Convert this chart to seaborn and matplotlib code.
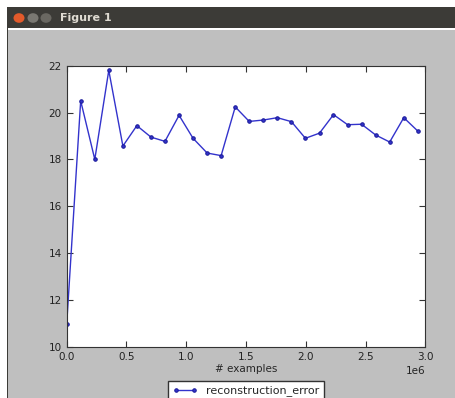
import seaborn as sns
import matplotlib.pyplot as plt
import pandas as pd
from matplotlib.patches import Rectangle, Circle

sns.set_style("ticks")

# examples seen (x) and reconstruction error (y)
examples = [0, 117000, 235000, 352000, 470000, 587000, 705000, 822000, 940000,
            1057000, 1175000, 1292000, 1410000, 1527000, 1645000, 1762000,
            1880000, 1997000, 2115000, 2232000, 2350000, 2467000, 2585000,
            2702000, 2820000, 2937000]
recon_error = [10.96, 20.5, 18.0, 21.8, 18.57, 19.44, 18.95, 18.77, 19.88,
               18.9, 18.27, 18.16, 20.24, 19.62, 19.68, 19.78, 19.61, 18.9,
               19.12, 19.91, 19.48, 19.5, 19.04, 18.74, 19.78, 19.21]

df = pd.DataFrame({"examples": examples, "reconstruction_error": recon_error})

plt.rcParams.update({
    "xtick.direction": "in", "ytick.direction": "in",
    "xtick.top": True, "ytick.right": True,
    "xtick.major.size": 4, "ytick.major.size": 4,
    "font.size": 7.5,
})

fig = plt.figure(figsize=(4.56, 3.98), dpi=100, facecolor="white")

# window chrome (title bar + grey canvas) like the screenshot
fig.patches.append(Rectangle((8 / 456, 0), 1, 1 - 30 / 398, transform=fig.transFigure,
                             facecolor="#bfbfbf", edgecolor="none", zorder=-2))
fig.patches.append(Rectangle((7 / 456, 0), 1.5 / 456, 1 - 28 / 398, transform=fig.transFigure,
                             facecolor="#3c3b37", edgecolor="none", zorder=-2))
fig.patches.append(Rectangle((7 / 456, 1 - 28 / 398), 1, 21 / 398, transform=fig.transFigure,
                             facecolor="#3c3b37", edgecolor="none", zorder=-2))
for cx, col in [(19, "#e35a2b"), (33, "#7a7872"), (46, "#6a6862")]:
    fig.patches.append(Circle((cx / 456, 1 - 18 / 398), 5.5 / 456, transform=fig.transFigure,
                              facecolor=col, edgecolor="none", zorder=-1))
fig.text(60 / 456, 1 - 18 / 398, "Figure 1", color="#dfdbd2", fontsize=8,
         fontweight="bold", va="center", ha="left")

ax = fig.add_axes([66.7 / 456, 1 - 346.7 / 398, (425.3 - 66.7) / 456, (346.7 - 65.7) / 398])
ax.set_zorder(1)
sns.lineplot(data=df, x="examples", y="reconstruction_error", ax=ax,
             color="#3333cc", marker=".", markersize=5, markeredgecolor="#1a1a99",
             linewidth=1, label="reconstruction_error")

ax.set_xlim(0, 3e6)
ax.set_ylim(10, 22)
ax.set_yticks([10, 12, 14, 16, 18, 20, 22])
ax.set_xlabel("# examples", fontsize=7.5, labelpad=2)
ax.set_ylabel("")
for s in ax.spines.values():
    s.set_color("#333333")
ax.tick_params(colors="#333333", labelcolor="#222222", labelsize=7.5)

leg = ax.legend(loc="upper center", bbox_to_anchor=(246 / 456, 1 - 381 / 398),
                bbox_transform=fig.transFigure, numpoints=2, fancybox=False,
                edgecolor="#333333", framealpha=1, fontsize=8, borderaxespad=0,
                handlelength=2.2)

fig.savefig("out.png", dpi=100, facecolor=fig.get_facecolor())
